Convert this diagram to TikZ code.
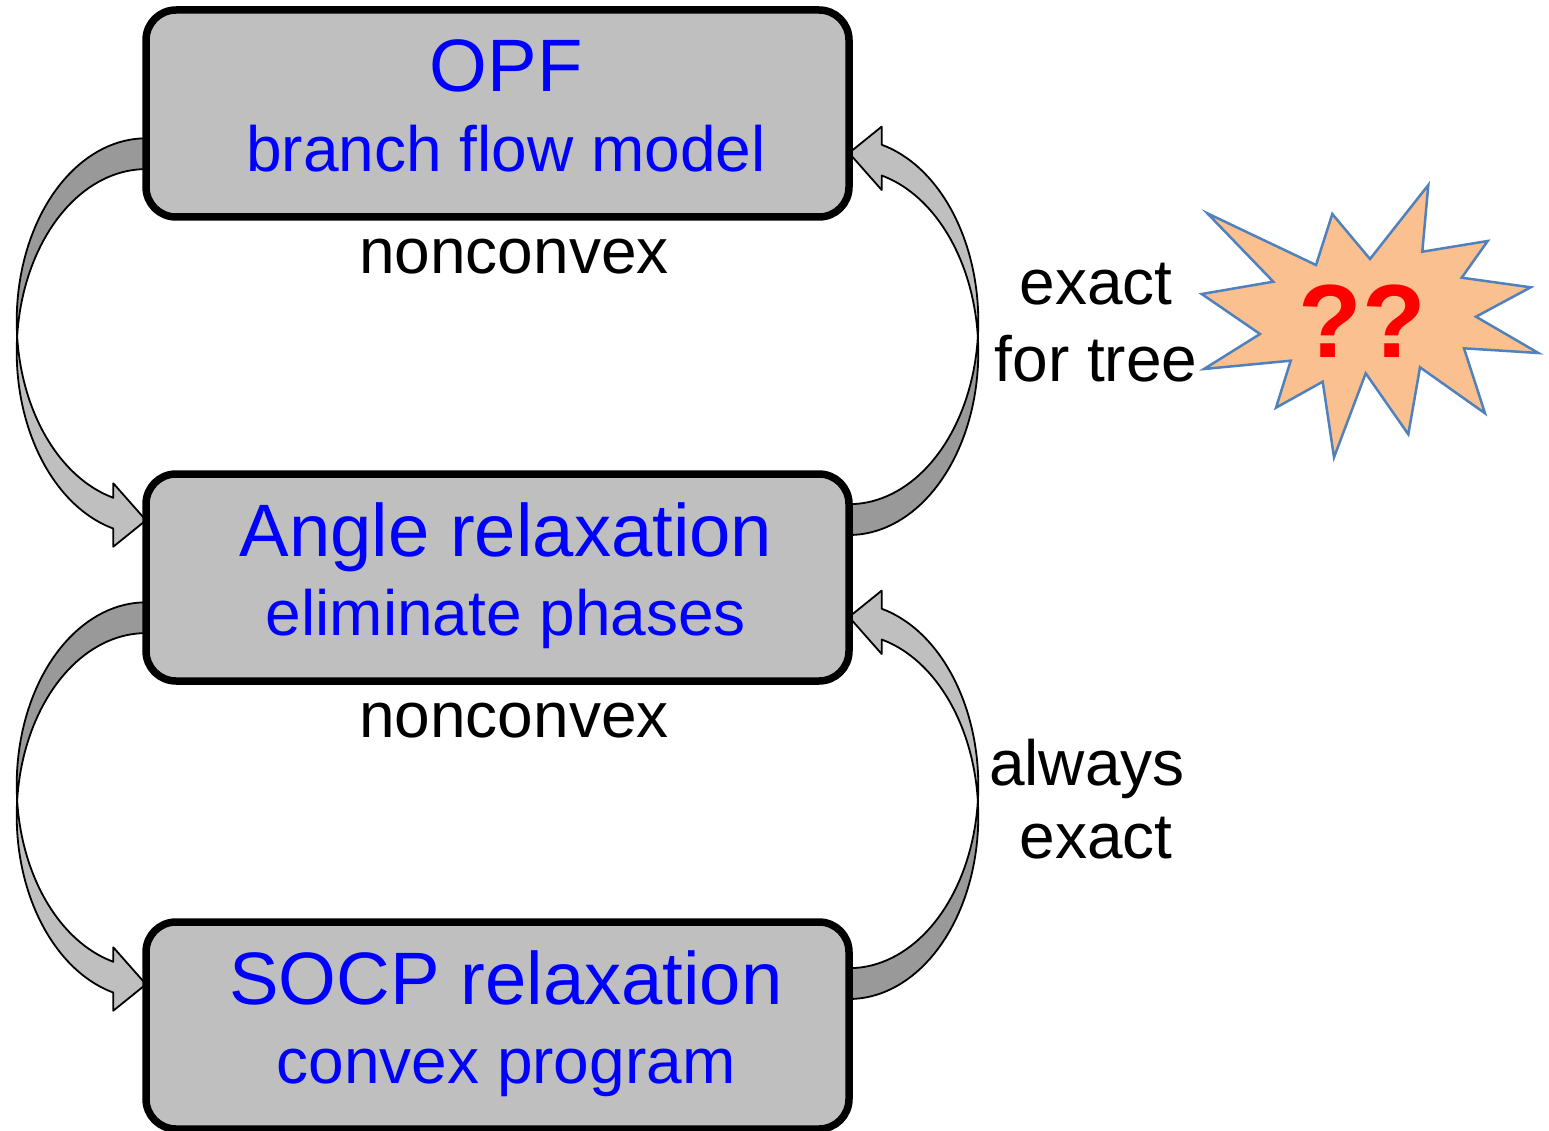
\documentclass[tikz,border=0pt]{standalone}
\usepackage{fontspec}
\setmainfont{Liberation Sans}
\pgfdeclarelayer{back}
\pgfsetlayers{back,main}
\definecolor{boxgray}{RGB}{191,191,191}
\definecolor{backgray}{RGB}{153,153,153}
\definecolor{txtblue}{RGB}{0,0,255}
\definecolor{burstfill}{RGB}{250,192,144}
\definecolor{burstline}{RGB}{79,129,189}
\tikzset{
  stage/.style={draw=black, line width=7.5pt, fill=boxgray, rounded corners=30pt,
    minimum width=703pt, minimum height=207pt, inner sep=0pt, outer sep=0pt},
  headline/.style={text=txtblue, font=\fontsize{74.3}{80}\selectfont, inner sep=0pt, anchor=base},
  subline/.style={text=txtblue, font=\fontsize{64}{76}\selectfont, inner sep=0pt, anchor=base},
  note/.style={text=black, font=\fontsize{64}{76}\selectfont, inner sep=0pt, anchor=base},
  ribbon/.style={draw=black, line width=1.8pt, line join=round},
  % curved ribbon arrow; origin = outer corner of the tail, y grows downwards
  curvedarrow/.pic={
    % back face of the ribbon, from the tail to the turning point
    \filldraw[ribbon, fill=backgray] (0,0)
      -- plot[domain=270:175.16, samples=40, variable=\t] ({129.3*cos(\t)}, {182.7+182.7*sin(\t)})
      -- plot[domain=184.84:270, samples=40, variable=\t] ({129.3*cos(\t)}, {213.5+182.7*sin(\t)})
      -- cycle;
    % front face with the arrow head
    \filldraw[ribbon, fill=boxgray]
      plot[domain=184.84:104.65, samples=50, variable=\t] ({129.3*cos(\t)}, {213.5+182.7*sin(\t)})
      -- (-32.7,408.4) -- (0,382) -- (-32.7,345)
      -- plot[domain=104.65:175.16, samples=50, variable=\t] ({129.3*cos(\t)}, {182.7+182.7*sin(\t)})
      -- cycle;
  }
}
\begin{document}
\begin{tikzpicture}[x=1pt, y=-1pt]
\useasboundingbox (0,0) rectangle (1549,1131);

% the three formulation boxes
\node[stage] (opf)   at (497.5, 113.5) {};
\node[stage] (angle) at (497.5, 577.5) {};
\node[stage] (socp)  at (497.5, 1025.5) {};

\node[headline] (opfT)   at (506, 91.7)   {OPF};
\node[subline]  (opfS)   at (506, 171.7)  {branch flow model};
\node[headline] (angleT) at (506, 556.7)  {Angle relaxation};
\node[subline]  (angleS) at (506, 635)    {eliminate phases};
\node[headline] (socpT)  at (506, 1004.3) {SOCP relaxation};
\node[subline]  (socpS)  at (506, 1083.3) {convex program};

% side remarks
\node[note] (nc1) at (514, 273.3) {nonconvex};
\node[note] (nc2) at (514, 737)   {nonconvex};
\node[note] (ex1) at (1096, 305)   {exact};
\node[note] (ft)  at (1096, 381.7) {for tree};
\node[note] (al)  at (1087, 785)   {always};
\node[note] (ex2) at (1096, 858.3) {exact};

% relaxation and exactness arrows, behind the boxes
\begin{pgfonlayer}{back}
  \pic at ([yshift=-24.8pt]opf.west) {curvedarrow};
  \pic at ([yshift=-24.8pt]angle.west) {curvedarrow};
  \pic[rotate=180] at ([yshift=42.5pt]angle.east) {curvedarrow};
  \pic[rotate=180] at ([yshift=26.5pt]socp.east) {curvedarrow};
\end{pgfonlayer}

% starburst with the open question
\filldraw[fill=burstfill, draw=burstline, line width=2.5pt, line join=miter]
  (1207.3,213.3) -- (1316,265) -- (1332.3,214) -- (1370,259) -- (1428.3,185)
  -- (1422.3,251.7) -- (1487.7,241) -- (1461.7,277.7) -- (1530.7,287.3)
  -- (1476,316.7) -- (1538.3,353) -- (1464,348.3) -- (1485,413.3)
  -- (1420,367.3) -- (1408.3,434.3) -- (1365.7,373.3) -- (1334,457.3)
  -- (1322.7,381.7) -- (1276,407.7) -- (1290.7,360.7) -- (1204,369)
  -- (1260,334) -- (1201.7,294) -- (1273.3,281.7) -- cycle;
\node[text=red, font=\fontsize{104}{110}\selectfont\bfseries, inner sep=0pt, anchor=base]
  (qq) at (1362.5, 357.3) {??};
\end{tikzpicture}
\end{document}
